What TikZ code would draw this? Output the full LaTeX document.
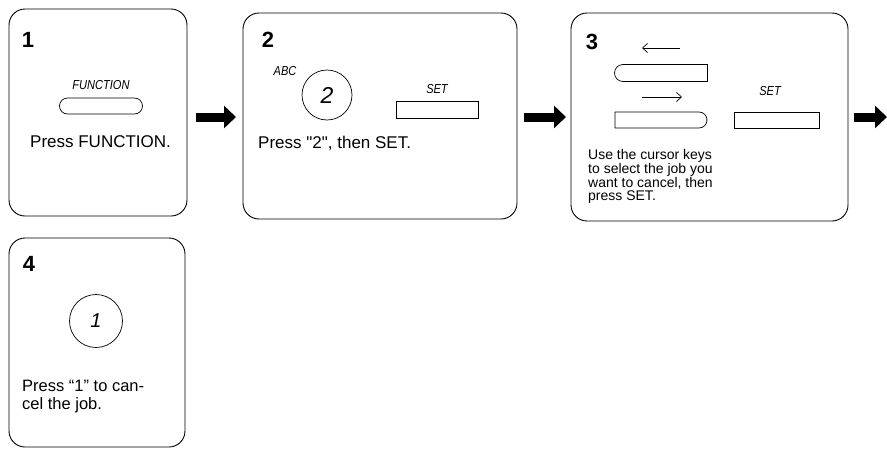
\documentclass[tikz,border=0pt]{standalone}
\usepackage{fontspec}
\usepackage{graphicx}
\setmainfont{Liberation Sans}
\usetikzlibrary{arrows.meta,shapes.misc}
\begin{document}
\begin{tikzpicture}[x=1pt,y=-1pt,
  box/.style={draw, line width=0.9pt, rounded corners=16pt, inner sep=0pt, outer sep=0pt, anchor=north west},
  num/.style={font=\fontsize{22}{22}\selectfont\bfseries, inner sep=0pt},
  key/.style={draw, line width=0.7pt, inner sep=0pt},
  lbl/.style={font=\fontsize{13}{13}\selectfont\itshape, inner sep=0pt},
  txt/.style={font=\fontsize{17}{17}\selectfont, inner sep=0pt, anchor=west},
  small/.style={font=\fontsize{14}{13}\selectfont, inner sep=0pt, anchor=north west, align=left},
  blockarrow/.style={line width=9pt, -{Triangle[length=12pt,width=22pt]}},
  thinarrow/.style={line width=0.7pt, -{Straight Barb[length=5pt,width=9pt]}},
]
\useasboundingbox[fill=white] (0,0) rectangle (887,450);

% boxes
\node[box, minimum width=178pt, minimum height=207pt] (b1) at (9,9) {};
\node[box, minimum width=274pt, minimum height=206pt] (b2) at (243,13) {};
\node[box, minimum width=277pt, minimum height=208pt] (b3) at (571,13) {};
\node[box, minimum width=176pt, minimum height=209pt] (b4) at (9,238) {};

% step numbers
\node[num] (n1) at (28,40) {1};
\node[num] (n2) at (268,40) {2};
\node[num] (n3) at (592,42) {3};
\node[num] (n4) at (29,264) {4};

% box 1
\node[lbl] (lf) at (101,85) {\scalebox{0.85}[1]{FUNCTION}};
\node[key, rounded rectangle, minimum width=83pt, minimum height=16pt] (kf) at (101,106) {};
\node[txt] (t1) at (30,142) {Press FUNCTION.};

% box 2
\node[lbl] (labc) at (285,71) {\scalebox{0.85}[1]{ABC}};
\node[key, circle, minimum size=50pt] (k2) at (327,95) {\fontsize{23}{23}\selectfont\itshape 2};
\node[lbl] (lset2) at (437,89) {\scalebox{0.85}[1]{SET}};
\node[key, rectangle, minimum width=82pt, minimum height=17pt] (kset2) at (437,110) {};
\node[txt] (t2) at (258,143) {Press \textquotedbl 2\textquotedbl, then SET.};

% box 3
\coordinate (la1) at (680,48);
\coordinate (la2) at (642,48);
\draw[thinarrow] (la1) -- (la2);
\node[key, rounded rectangle, rounded rectangle right arc=none, minimum width=93pt, minimum height=17pt] (kl) at (661,73) {};
\coordinate (ra1) at (642,97);
\coordinate (ra2) at (682,97);
\draw[thinarrow] (ra1) -- (ra2);
\node[key, rounded rectangle, rounded rectangle left arc=none, minimum width=92pt, minimum height=16pt] (kr) at (661,120) {};
\node[lbl] (lset3) at (770,91) {\scalebox{0.85}[1]{SET}};
\node[key, rectangle, minimum width=85pt, minimum height=16pt] (kset3) at (777,120) {};
\node[small] (t3) at (588,149) {Use the cursor keys\\to select the job you\\want to cancel, then\\press SET.};

% box 4
\node[key, circle, minimum size=53pt] (k1) at (96,321) {\fontsize{20}{20}\selectfont\itshape 1};
\node[small, font=\fontsize{16.5}{18}\selectfont] (t4) at (22,380) {Press “1” to can-\\cel the job.};

% block arrows between steps
\coordinate (ay) at (0,117);
\coordinate (edge) at (887,117);
\draw[blockarrow, shorten <=9pt, shorten >=7pt] (b1.east |- ay) -- (b2.west |- ay);
\draw[blockarrow, shorten <=7pt, shorten >=5pt] (b2.east |- ay) -- (b3.west |- ay);
\draw[blockarrow, shorten <=6pt] (b3.east |- ay) -- (edge);
\end{tikzpicture}
\end{document}
